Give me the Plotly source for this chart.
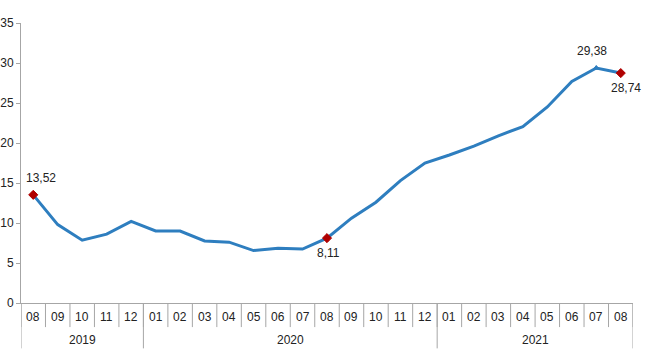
import plotly.graph_objects as go

years = ["2019", "2020", "2021"]
year_counts = [5, 12, 8]
months = ["08","09","10","11","12",
          "01","02","03","04","05","06","07","08","09","10","11","12",
          "01","02","03","04","05","06","07","08"]
values = [13.52, 9.8, 7.85, 8.6, 10.2,
          9.0, 9.0, 7.75, 7.6, 6.55, 6.85, 6.75, 8.11, 10.6, 12.6, 15.3, 17.5,
          18.5, 19.6, 20.9, 22.05, 24.5, 27.7, 29.38, 28.74]

label_idx = [0, 12, 23, 24]
label_text = ["13,52", "8,11", "29,38", "28,74"]
label_dx = [8, 1, -4, 5]
label_dy = [17, -15, 17, -15]
marker_syms = ["diamond", "diamond", "triangle-up", "diamond"]
marker_cols = ["#B00000", "#B00000", "#2E7EBF", "#B00000"]

FONT = "Liberation Sans, Arial"
AX = "#A6A6A6"
TXT = "#222222"
xs = list(range(len(months)))

fig = go.Figure()
fig.add_trace(go.Scatter(
    x=xs, y=values, mode="lines",
    line=dict(color="#2E7EBF", width=3), hoverinfo="skip", showlegend=False,
    cliponaxis=False))
fig.add_trace(go.Scatter(
    x=[xs[i] for i in label_idx], y=[values[i] for i in label_idx],
    mode="markers", cliponaxis=False, showlegend=False, hoverinfo="skip",
    marker=dict(symbol=marker_syms, color=marker_cols, opacity=1,
                line=dict(color=marker_cols, width=1),
                size=[7 if s == "diamond" else 5 for s in marker_syms])))

shapes = []
annotations = []
for i, t, dx, dy in zip(label_idx, label_text, label_dx, label_dy):
    annotations.append(dict(x=xs[i], y=values[i], xref="x", yref="y", text=t,
                            showarrow=False, xshift=dx, yshift=dy,
                            font=dict(family=FONT, size=12, color=TXT)))

month_bottom = -0.086
year_bottom = -0.162
for i in range(len(months) + 1):
    shapes.append(dict(type="line", xref="x", yref="paper",
                       x0=i - 0.5, x1=i - 0.5, y0=0, y1=month_bottom,
                       line=dict(color=AX, width=1)))
for i, m in enumerate(months):
    annotations.append(dict(x=i, y=-0.05, xref="x", yref="paper", text=m,
                            showarrow=False, yanchor="middle",
                            font=dict(family=FONT, size=12, color=TXT)))
start = 0
bounds = [0]
for y, n in zip(years, year_counts):
    annotations.append(dict(x=start + (n - 1) / 2, y=-0.132, xref="x", yref="paper",
                            text=y, showarrow=False, yanchor="middle",
                            font=dict(family=FONT, size=12, color=TXT)))
    start += n
    bounds.append(start)
for b in bounds:
    shapes.append(dict(type="line", xref="x", yref="paper",
                       x0=b - 0.5, x1=b - 0.5, y0=0, y1=year_bottom,
                       line=dict(color=AX, width=1)))

fig.update_layout(
    width=650, height=360,
    margin=dict(l=21, r=17, t=23, b=57, autoexpand=False),
    paper_bgcolor="white", plot_bgcolor="white",
    font=dict(family=FONT, size=12, color=TXT),
    shapes=shapes, annotations=annotations, hovermode=False,
)
fig.update_yaxes(range=[0, 35], dtick=5, showgrid=False, zeroline=False,
                 showline=True, linecolor=AX, linewidth=1, automargin=False,
                 ticks="outside", ticklen=4, tickcolor=AX)
fig.update_xaxes(range=[-0.5, len(months) - 0.5], showgrid=False, showline=True,
                 linecolor=AX, linewidth=1, zeroline=False, showticklabels=False,
                 automargin=False)

fig.write_html("out.html", config={"displayModeBar": False},
               post_script="document.body.style.margin='0';")
